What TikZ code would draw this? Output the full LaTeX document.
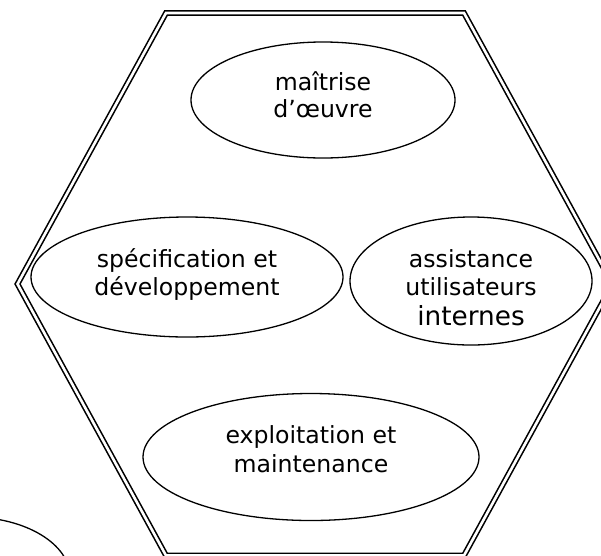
\documentclass[tikz,border=0pt]{standalone}
\usepackage{fontspec}
\setmainfont{DejaVu Sans}
\usetikzlibrary{shapes.geometric}
\begin{document}
\begin{tikzpicture}[x=1pt,y=-1pt,
  ell/.style={draw=black, ellipse, line width=1.3pt, inner sep=0pt},
  lbl/.style={anchor=base, inner sep=0pt, font=\fontsize{23.6}{28}\selectfont},
  biglbl/.style={anchor=base, inner sep=0pt, font=\fontsize{26.3}{30}\selectfont},
  hexline/.style={draw=black, line width=1.6pt, double=white, double distance=2.6pt, line join=miter}]
\useasboundingbox (0,0) rectangle (601,555);
\clip (0,0) rectangle (601,555);
% hexagon
\coordinate (hl) at (17.5,284);
\coordinate (htl) at (166,13);
\coordinate (htr) at (464,13);
\coordinate (hr) at (612.5,284);
\coordinate (hbr) at (464,555.5);
\coordinate (hbl) at (166,555.5);
\draw[hexline] (hl) -- (htl) -- (htr) -- (hr) -- (hbr) -- (hbl) -- cycle;
% ellipses
\node[ell, minimum width=264pt, minimum height=116pt] (mo) at (323,100) {};
\node[ell, minimum width=312pt, minimum height=120pt] (sd) at (187,277) {};
\node[ell, minimum width=242pt, minimum height=128pt] (au) at (471,281) {};
\node[ell, minimum width=336pt, minimum height=127pt] (em) at (311,457) {};
\node[ell, minimum width=200pt, minimum height=120pt] (px) at (-30,577) {};
% texts
\node[lbl] (mo1) at (323,90) {maîtrise};
\node[lbl] (mo2) at (323,117) {d’œuvre};
\node[lbl] (sd1) at (187,267) {spécification et};
\node[lbl] (sd2) at (187,295) {développement};
\node[lbl] (au1) at (471,267) {assistance};
\node[lbl] (au2) at (471,295) {utilisateurs};
\node[biglbl] (au3) at (471,325) {internes};
\node[lbl] (em1) at (311,443) {exploitation et};
\node[lbl] (em2) at (311,472) {maintenance};
\end{tikzpicture}
\end{document}
